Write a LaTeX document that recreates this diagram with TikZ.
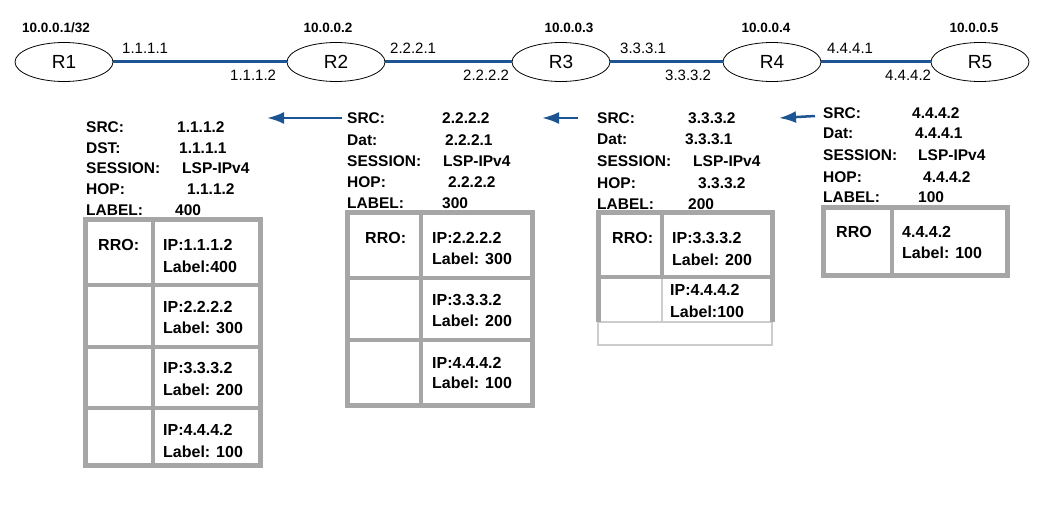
\documentclass[tikz,border=0pt]{standalone}
\usepackage{fontspec}
\setmainfont{Liberation Sans}
\usetikzlibrary{positioning, arrows.meta, shapes.geometric}

\definecolor{linkblue}{HTML}{1C5494}
\definecolor{gridgray}{HTML}{A6A6A6}
\definecolor{lightgray}{HTML}{CCCCCC}

\begin{document}
\begin{tikzpicture}[
    x=1pt, y=-1pt,
    % Styles
    router/.style={ellipse, draw=black, line width=0.8pt, minimum width=98pt, minimum height=39pt, inner sep=0pt, font=\fontsize{19}{19}\selectfont},
    loopback/.style={font=\fontsize{13.5}{14}\selectfont\bfseries, inner sep=0pt},
    ifaddr/.style={font=\fontsize{15}{15}\selectfont, anchor=west, inner sep=0pt},
    field/.style={font=\fontsize{15.5}{16}\selectfont\bfseries, anchor=west, inner sep=0pt},
    cell/.style={font=\fontsize{16}{16}\selectfont\bfseries, anchor=west, inner sep=0pt},
    link/.style={linkblue, line width=3pt},
    msg/.style={-{Latex[length=17pt, width=12pt]}, linkblue, line width=2.5pt},
    outerline/.style={draw=gridgray, line width=5pt},
    innerline/.style={draw=gridgray, line width=3.5pt},
    faintline/.style={draw=lightgray, line width=2pt},
]
\useasboundingbox (0,0) rectangle (1055,513);

% Routers
\node[router] (r1) at (64,62) {R1};
\node[router] (r2) at (336,62) {R2};
\node[router] (r3) at (561,62) {R3};
\node[router] (r4) at (772,62) {R4};
\node[router] (r5) at (980,62) {R5};

% Loopback addresses
\node[loopback] (lo1) at (56,28) {10.0.0.1/32};
\node[loopback] (lo2) at (328,28) {10.0.0.2};
\node[loopback] (lo3) at (569,28) {10.0.0.3};
\node[loopback] (lo4) at (766,28) {10.0.0.4};
\node[loopback] (lo5) at (974,28) {10.0.0.5};

% Links
\draw[link] (r1) -- (r2);
\draw[link] (r2) -- (r3);
\draw[link] (r3) -- (r4);
\draw[link] (r4) -- (r5);

% Interface addresses
\node[ifaddr] (if11) at (122,48) {1.1.1.1};
\node[ifaddr] (if12) at (230,75) {1.1.1.2};
\node[ifaddr] (if21) at (390,48) {2.2.2.1};
\node[ifaddr] (if22) at (463,75) {2.2.2.2};
\node[ifaddr] (if31) at (620,48) {3.3.3.1};
\node[ifaddr] (if32) at (665,75) {3.3.3.2};
\node[ifaddr] (if41) at (827,48) {4.4.4.1};
\node[ifaddr] (if42) at (885,75) {4.4.4.2};

% Resv at R2 (received from R2 by R1)
\node[field] (src1) at (86,127) {SRC:};
\node[field] (src1v) at (177,127) {1.1.1.2};
\node[field] (dst1) at (86,148) {DST:};
\node[field] (dst1v) at (179,148) {1.1.1.1};
\node[field] (ses1) at (86,168) {SESSION:};
\node[field] (ses1v) at (182,168) {LSP-IPv4};
\node[field] (hop1) at (86,189) {HOP:};
\node[field] (hop1v) at (187,189) {1.1.1.2};
\node[field] (lbl1) at (86,210) {LABEL:};
\node[field] (lbl1v) at (175,210) {400};

% RRO table 1
\draw[innerline] (153,220) -- (153,465);
\draw[innerline] (85,285) -- (260,285) (85,347) -- (260,347) (85,408) -- (260,408);
\draw[outerline] (85,220) rectangle (260,465);
\node[cell] (rro1) at (98,245) {RRO:};
\node[cell] (t1ip1) at (163,245) {IP:1.1.1.2};
\node[cell] (t1lb1) at (163,267) {Label:400};
\node[cell] (t1ip2) at (163,307) {IP:2.2.2.2};
\node[cell] (t1lb2) at (163,328) {Label: 300};
\node[cell] (t1ip3) at (163,368) {IP:3.3.3.2};
\node[cell] (t1lb3) at (163,390) {Label: 200};
\node[cell] (t1ip4) at (163,430) {IP:4.4.4.2};
\node[cell] (t1lb4) at (163,452) {Label: 100};

% Resv at R3
\node[field] (src2) at (347,118) {SRC:};
\node[field] (src2v) at (442,118) {2.2.2.2};
\node[field] (dst2) at (347,140) {Dat:};
\node[field] (dst2v) at (445,140) {2.2.2.1};
\node[field] (ses2) at (347,161) {SESSION:};
\node[field] (ses2v) at (443,161) {LSP-IPv4};
\node[field] (hop2) at (347,182) {HOP:};
\node[field] (hop2v) at (448,182) {2.2.2.2};
\node[field] (lbl2) at (347,203) {LABEL:};
\node[field] (lbl2v) at (442,203) {300};

% RRO table 2
\draw[innerline] (421,213) -- (421,405);
\draw[innerline] (347,278) -- (532,278) (347,340) -- (532,340);
\draw[outerline] (347,213) rectangle (532,405);
\node[cell] (rro2) at (365,238) {RRO:};
\node[cell] (t2ip1) at (432,238) {IP:2.2.2.2};
\node[cell] (t2lb1) at (432,259) {Label: 300};
\node[cell] (t2ip2) at (432,300) {IP:3.3.3.2};
\node[cell] (t2lb2) at (432,321) {Label: 200};
\node[cell] (t2ip3) at (432,363) {IP:4.4.4.2};
\node[cell] (t2lb3) at (432,383) {Label: 100};

% Resv at R4
\node[field] (src3) at (597,118) {SRC:};
\node[field] (src3v) at (688,118) {3.3.3.2};
\node[field] (dst3) at (597,139) {Dat:};
\node[field] (dst3v) at (685,139) {3.3.3.1};
\node[field] (ses3) at (597,161) {SESSION:};
\node[field] (ses3v) at (693,161) {LSP-IPv4};
\node[field] (hop3) at (597,183) {HOP:};
\node[field] (hop3v) at (698,183) {3.3.3.2};
\node[field] (lbl3) at (597,204) {LABEL:};
\node[field] (lbl3v) at (688,204) {200};

% RRO table 3 (last rows drawn faint)
\draw[faintline] (662,277) -- (662,322) (598,322) rectangle (772,345);
\draw[innerline] (662,213) -- (662,277) (598,277) -- (772,277);
\draw[outerline] (598,322) -- (598,213) -- (772,213) -- (772,322);
\node[cell] (rro3) at (612,238) {RRO:};
\node[cell] (t3ip1) at (672,238) {IP:3.3.3.2};
\node[cell] (t3lb1) at (672,260) {Label: 200};
\node[cell] (t3ip2) at (670,290) {IP:4.4.4.2};
\node[cell] (t3lb2) at (670,312) {Label:100};

% Resv at R5
\node[field] (src4) at (823,113) {SRC:};
\node[field] (src4v) at (912,113) {4.4.4.2};
\node[field] (dst4) at (823,133) {Dat:};
\node[field] (dst4v) at (915,133) {4.4.4.1};
\node[field] (ses4) at (823,155) {SESSION:};
\node[field] (ses4v) at (918,155) {LSP-IPv4};
\node[field] (hop4) at (823,177) {HOP:};
\node[field] (hop4v) at (923,177) {4.4.4.2};
\node[field] (lbl4) at (823,197) {LABEL:};
\node[field] (lbl4v) at (918,197) {100};

% RRO table 4
\draw[innerline] (892,208) -- (892,275);
\draw[outerline] (823,208) rectangle (1007,275);
\node[cell] (rro4) at (836,232) {RRO};
\node[cell] (t4ip1) at (902,232) {4.4.4.2};
\node[cell] (t4lb1) at (902,253) {Label: 100};

% Resv direction arrows
\coordinate (a1from) at (342,118);
\coordinate (a1to) at (267,118);
\coordinate (a2from) at (578,118);
\coordinate (a2to) at (542,118);
\coordinate (a3from) at (815,116);
\coordinate (a3to) at (779,118);
\draw[msg] (a1from) -- (a1to);
\draw[msg] (a2from) -- (a2to);
\draw[msg] (a3from) -- (a3to);

\end{tikzpicture}
\end{document}
